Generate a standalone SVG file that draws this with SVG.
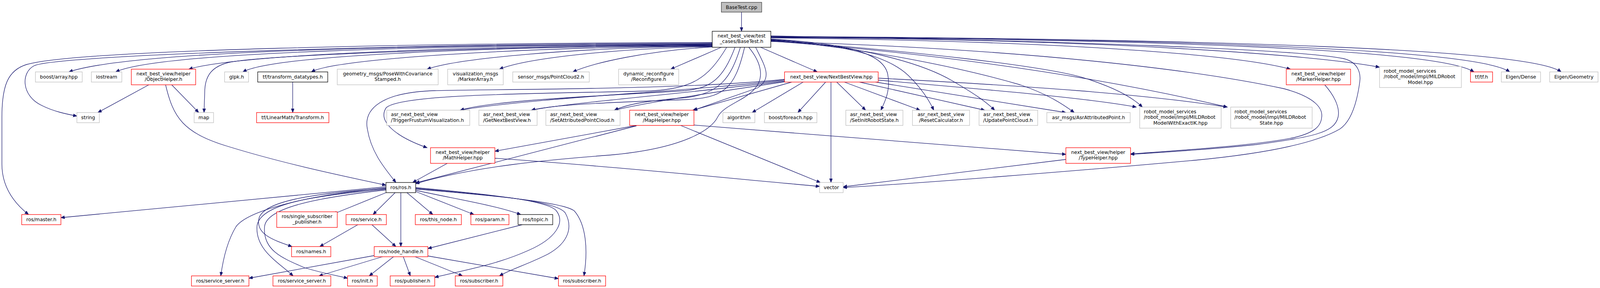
<svg xmlns="http://www.w3.org/2000/svg" width="4203" height="737" viewBox="0 0 4203 737">
<style>
rect{fill:#fff;stroke-width:1.3}
.g{stroke:#bfbfbf}
.r{stroke:#ff0000}
.k{stroke:#000}
.c{fill:#bfbfbf;stroke:#404040}
text{font-family:"DejaVu Sans",sans-serif;font-size:12.7px;fill:#000}
.m{text-anchor:middle}
#edges path{fill:none;stroke:#191970;stroke-width:1.3;marker-end:url(#a)}
</style>
<defs>
<marker id="a" markerUnits="userSpaceOnUse" markerWidth="12" markerHeight="10" refX="10" refY="4" orient="auto"><path d="M0,0L10,4L0,8z" fill="#191970" stroke="#191970" stroke-width="1"/></marker>
</defs>
<rect x="0" y="0" width="4203" height="737" style="fill:#fff;stroke:none"/>
<g id="diagram" transform="scale(0.9745,1)">
<g id="edges" fill="none" stroke="#191970" stroke-width="1.3">
<path d="M1948,31 L1948,80"/>
<path d="M1871,112 C1100,116 350,128 181,184"/>
<path d="M1871,113 C1150,117 420,132 304,184"/>
<path d="M1871,114 C1200,118 620,140 496,177"/>
<path d="M1871,110 C1100,112 150,140 90,168 C55,185 55,245 110,270 C140,285 175,292 202,297"/>
<path d="M1871,109 C1100,110 200,128 70,165 C20,180 5,220 5,300 L5,420 C5,480 40,522 75,549"/>
<path d="M1871,115 C1300,120 700,140 600,160 C560,170 540,190 538,230 L536,288"/>
<path d="M1871,116 C1300,120 720,140 638,184"/>
<path d="M1871,117 C1350,122 880,150 818,184"/>
<path d="M1871,118 C1500,122 1200,150 1122,177"/>
<path d="M1871,119 C1600,125 1380,150 1312,177"/>
<path d="M1871,120 C1700,130 1560,160 1505,184"/>
<path d="M1895,121 L1762,177"/>
<path d="M1998,121 L2147,184"/>
<path d="M1909,121 C1860,200 1820,228 1700,233 C1400,240 1060,240 1015,275 C990,310 1040,350 1122,378"/>
<path d="M1931,121 C1900,200 1870,225 1800,232 C1600,245 1300,255 1209,282"/>
<path d="M1956,121 C1930,230 1900,250 1800,255 C1600,262 1450,268 1396,282"/>
<path d="M1945,121 C1920,200 1890,240 1800,250 C1700,258 1650,266 1614,282"/>
<path d="M1985,121 C2010,170 2030,200 1990,225 L1822,282"/>
<path d="M1967,121 C2000,160 2010,200 1980,230 C1950,260 1900,270 1885,300 C1870,330 1800,380 1600,397 C1450,408 1250,425 1092,470"/>
<path d="M2025,100 C2200,110 2320,130 2332,190 C2340,230 2325,260 2314,282"/>
<path d="M2025,101 C2200,112 2330,140 2386,193 C2420,225 2440,255 2453,282"/>
<path d="M2025,102 C2250,115 2420,160 2502,207 C2560,240 2590,260 2613,282"/>
<path d="M2025,103 C2300,125 2550,180 2680,217 C2750,240 2790,265 2822,288"/>
<path d="M2025,104 C2400,130 2750,170 2850,200 C2920,222 2970,245 3001,274"/>
<path d="M2025,105 C2500,140 2900,200 3224,274"/>
<path d="M2025,106 C2700,125 3150,180 3373,227 C3460,250 3475,280 3472,300 C3470,325 3450,340 3400,352 C3300,372 3100,385 2970,394"/>
<path d="M2025,97 C2800,105 3250,140 3390,177"/>
<path d="M2025,96 C2900,100 3450,140 3624,172"/>
<path d="M2025,95 C3000,100 3780,125 3872,184"/>
<path d="M2025,94 C3100,100 3880,125 3966,184"/>
<path d="M2025,93 C3200,100 4020,125 4101,184"/>
<path d="M2025,92 C2800,105 3400,125 3530,150 C3570,160 3575,190 3572,210 C3565,260 3550,310 3520,330 C3450,370 3300,395 3140,410 C2800,440 2400,470 2215,480"/>
<path d="M2061,205 C1800,235 1400,250 1209,282"/>
<path d="M2065,207 C1800,240 1500,262 1396,282"/>
<path d="M2070,208 C1850,240 1700,262 1614,282"/>
<path d="M2080,210 L1820,282"/>
<path d="M2061,203 C1800,230 1300,228 1142,232 C1000,236 955,280 965,330 C975,390 1010,430 1040,467"/>
<path d="M2110,210 L1976,288"/>
<path d="M2169,210 L2096,288"/>
<path d="M2183,210 L2183,467"/>
<path d="M2198,210 L2274,282"/>
<path d="M2218,210 L2417,282"/>
<path d="M2258,210 L2587,282"/>
<path d="M2300,210 L2800,288"/>
<path d="M2307,205 C2600,230 2850,250 2985,274"/>
<path d="M2307,200 C2700,220 3000,240 3224,274"/>
<path d="M391,217 L257,288"/>
<path d="M451,217 L522,288"/>
<path d="M435,217 C455,300 480,340 600,375 C750,420 900,450 1014,474"/>
<path d="M769,210 L769,288"/>
<path d="M1672,321 L1300,387"/>
<path d="M1672,322 L1092,468"/>
<path d="M1823,320 C2200,350 2600,380 2800,395"/>
<path d="M1788,321 L2155,467"/>
<path d="M1175,418 L1084,467"/>
<path d="M1300,405 C1600,425 1900,455 2153,477"/>
<path d="M3480,217 C3510,250 3520,280 3515,300 C3505,340 3450,350 3300,370 C3150,385 3050,390 2970,395"/>
<path d="M2800,408 L2215,478"/>
<path d="M1014,478 L160,557"/>
<path d="M1014,481 C800,500 650,540 620,580 C595,620 585,670 580,706"/>
<path d="M1014,482 C820,495 690,515 680,560 C672,600 720,615 767,631"/>
<path d="M1014,484 C830,500 680,520 675,580 C672,640 730,670 770,706"/>
<path d="M1014,486 C840,505 700,530 695,580 C690,640 740,660 800,685 C850,700 885,705 913,712"/>
<path d="M1014,493 L875,548"/>
<path d="M1038,493 L980,549"/>
<path d="M1053,493 L1053,631"/>
<path d="M1069,493 L1137,549"/>
<path d="M1092,490 L1245,549"/>
<path d="M1092,487 C1200,510 1300,525 1368,549"/>
<path d="M1092,480 C1250,495 1440,510 1462,540 C1485,570 1460,610 1390,640 C1300,680 1200,695 1142,710"/>
<path d="M1092,482 C1250,497 1460,510 1485,545 C1505,580 1495,620 1440,650 C1390,675 1340,690 1312,706"/>
<path d="M1092,484 C1250,497 1480,515 1509,540 C1540,575 1545,640 1534,706"/>
<path d="M940,575 L840,631"/>
<path d="M977,575 L1040,631"/>
<path d="M1372,575 L1124,636"/>
<path d="M983,654 L654,712"/>
<path d="M1008,656 L838,706"/>
<path d="M1035,656 L970,706"/>
<path d="M1059,656 L1078,706"/>
<path d="M1088,656 L1215,706"/>
<path d="M1124,655 L1467,713"/>
</g>
<g id="nodes" font-family="DejaVu Sans, sans-serif" font-size="12.7">
<g id="n_cpp"><rect class="c" x="1895" y="6" width="106" height="25"/><text class="m" text-anchor="middle" x="1948" y="23">BaseTest.cpp</text></g>
<g id="n_basetest_h"><rect class="k" x="1871" y="80" width="154" height="41"/><text class="m" text-anchor="middle" x="1948" y="96">next_best_view/test</text><text class="m" text-anchor="middle" x="1948" y="110.5">_cases/BaseTest.h</text></g>
<g id="n_boost_array"><rect class="g" x="93" y="184" width="123" height="26"/><text class="m" text-anchor="middle" x="154.5" y="201">boost/array.hpp</text></g>
<g id="n_iostream"><rect class="g" x="240" y="184" width="80" height="26"/><text class="m" text-anchor="middle" x="280" y="201">iostream</text></g>
<g id="n_objecthelper"><rect class="r" x="345" y="177" width="169" height="40"/><text class="m" text-anchor="middle" x="429.5" y="193">next_best_view/helper</text><text class="m" text-anchor="middle" x="429.5" y="207.5">/ObjectHelper.h</text></g>
<g id="n_glpk"><rect class="g" x="590" y="184" width="63" height="26"/><text class="m" text-anchor="middle" x="621.5" y="201">glpk.h</text></g>
<g id="n_tf_datatypes"><rect class="k" x="677" y="184" width="184" height="26"/><text class="m" text-anchor="middle" x="769" y="201">tf/transform_datatypes.h</text></g>
<g id="n_pose"><rect class="g" x="886" y="177" width="265" height="40"/><text class="m" text-anchor="middle" x="1018.5" y="193">geometry_msgs/PoseWithCovariance</text><text class="m" text-anchor="middle" x="1018.5" y="207.5">Stamped.h</text></g>
<g id="n_markerarray"><rect class="g" x="1176" y="177" width="146" height="40"/><text class="m" text-anchor="middle" x="1249" y="193">visualization_msgs</text><text class="m" text-anchor="middle" x="1249" y="207.5">/MarkerArray.h</text></g>
<g id="n_pointcloud2"><rect class="g" x="1347" y="184" width="201" height="26"/><text class="m" text-anchor="middle" x="1447.5" y="201">sensor_msgs/PointCloud2.h</text></g>
<g id="n_reconfigure"><rect class="g" x="1625" y="177" width="158" height="40"/><text class="m" text-anchor="middle" x="1704" y="193">dynamic_reconfigure</text><text class="m" text-anchor="middle" x="1704" y="207.5">/Reconfigure.h</text></g>
<g id="n_nbv"><rect class="r" x="2061" y="184" width="246" height="26"/><text class="m" text-anchor="middle" x="2184" y="201">next_best_view/NextBestView.hpp</text></g>
<g id="n_markerhelper"><rect class="r" x="3379" y="177" width="169" height="40"/><text class="m" text-anchor="middle" x="3463.5" y="193">next_best_view/helper</text><text class="m" text-anchor="middle" x="3463.5" y="207.5">/MarkerHelper.hpp</text></g>
<g id="n_mildmodel"><rect class="g" x="3624" y="170" width="215" height="54"/><text x="3635" y="186">robot_model_services</text><text x="3635" y="200.5">/robot_model/impl/MILDRobot</text><text class="m" text-anchor="middle" x="3731.5" y="215">Model.hpp</text></g>
<g id="n_tf_tf"><rect class="r" x="3863" y="184" width="58" height="26"/><text class="m" text-anchor="middle" x="3892" y="201">tf/tf.h</text></g>
<g id="n_eigen_dense"><rect class="g" x="3944" y="184" width="103" height="26"/><text class="m" text-anchor="middle" x="3995.5" y="201">Eigen/Dense</text></g>
<g id="n_eigen_geometry"><rect class="g" x="4071" y="184" width="127" height="26"/><text class="m" text-anchor="middle" x="4134.5" y="201">Eigen/Geometry</text></g>
<g id="n_string"><rect class="g" x="202" y="288" width="59" height="26"/><text class="m" text-anchor="middle" x="231.5" y="305">string</text></g>
<g id="n_map"><rect class="g" x="510" y="288" width="51" height="26"/><text class="m" text-anchor="middle" x="535.5" y="305">map</text></g>
<g id="n_transform"><rect class="r" x="674" y="288" width="190" height="26"/><text class="m" text-anchor="middle" x="769" y="305">tf/LinearMath/Transform.h</text></g>
<g id="n_trigger"><rect class="g" x="1016" y="282" width="218" height="39"/><text x="1027" y="297.5">asr_next_best_view</text><text x="1027" y="312">/TriggerFrustumVisualization.h</text></g>
<g id="n_getnbv"><rect class="g" x="1258" y="282" width="153" height="39"/><text x="1269" y="297.5">asr_next_best_view</text><text x="1269" y="312">/GetNextBestView.h</text></g>
<g id="n_setattr"><rect class="g" x="1434" y="282" width="195" height="39"/><text x="1445" y="297.5">asr_next_best_view</text><text x="1445" y="312">/SetAttributedPointCloud.h</text></g>
<g id="n_maphelper"><rect class="r" x="1654" y="282" width="169" height="39"/><text class="m" text-anchor="middle" x="1738.5" y="297.5">next_best_view/helper</text><text class="m" text-anchor="middle" x="1738.5" y="312">/MapHelper.hpp</text></g>
<g id="n_algorithm"><rect class="g" x="1899" y="288" width="84" height="26"/><text class="m" text-anchor="middle" x="1941" y="305">algorithm</text></g>
<g id="n_foreach"><rect class="g" x="2008" y="288" width="138" height="26"/><text class="m" text-anchor="middle" x="2077" y="305">boost/foreach.hpp</text></g>
<g id="n_setinit"><rect class="g" x="2222" y="282" width="150" height="39"/><text x="2233" y="297.5">asr_next_best_view</text><text x="2233" y="312">/SetInitRobotState.h</text></g>
<g id="n_reset"><rect class="g" x="2397" y="282" width="150" height="39"/><text class="m" text-anchor="middle" x="2472" y="297.5">asr_next_best_view</text><text class="m" text-anchor="middle" x="2472" y="312">/ResetCalculator.h</text></g>
<g id="n_update"><rect class="g" x="2572" y="282" width="154" height="39"/><text x="2583" y="297.5">asr_next_best_view</text><text x="2583" y="312">/UpdatePointCloud.h</text></g>
<g id="n_asrpoint"><rect class="g" x="2750" y="288" width="219" height="26"/><text class="m" text-anchor="middle" x="2859.5" y="305">asr_msgs/AsrAttributedPoint.h</text></g>
<g id="n_exactik"><rect class="g" x="2994" y="274" width="214" height="54"/><text x="3005" y="290">robot_model_services</text><text x="3005" y="304.5">/robot_model/impl/MILDRobot</text><text class="m" text-anchor="middle" x="3101" y="319">ModelWithExactIK.hpp</text></g>
<g id="n_mildstate"><rect class="g" x="3233" y="274" width="214" height="54"/><text x="3243" y="290">robot_model_services</text><text x="3243" y="304.5">/robot_model/impl/MILDRobot</text><text class="m" text-anchor="middle" x="3340" y="319">State.hpp</text></g>
<g id="n_mathhelper"><rect class="r" x="1131" y="378" width="169" height="40"/><text class="m" text-anchor="middle" x="1215.5" y="394">next_best_view/helper</text><text class="m" text-anchor="middle" x="1215.5" y="408.5">/MathHelper.hpp</text></g>
<g id="n_typehelper"><rect class="r" x="2800" y="378" width="170" height="40"/><text class="m" text-anchor="middle" x="2885" y="394">next_best_view/helper</text><text class="m" text-anchor="middle" x="2885" y="408.5">/TypeHelper.hpp</text></g>
<g id="n_ros"><rect class="k" x="1014" y="467" width="78" height="26"/><text class="m" text-anchor="middle" x="1053" y="484">ros/ros.h</text></g>
<g id="n_vector"><rect class="g" x="2153" y="467" width="62" height="26"/><text class="m" text-anchor="middle" x="2184" y="484">vector</text></g>
<g id="n_master"><rect class="r" x="57" y="549" width="103" height="26"/><text class="m" text-anchor="middle" x="108.5" y="566">ros/master.h</text></g>
<g id="n_ssp"><rect class="r" x="727" y="542" width="159" height="40"/><text class="m" text-anchor="middle" x="806.5" y="558">ros/single_subscriber</text><text class="m" text-anchor="middle" x="806.5" y="572.5">_publisher.h</text></g>
<g id="n_service"><rect class="r" x="909" y="549" width="106" height="26"/><text class="m" text-anchor="middle" x="962" y="566">ros/service.h</text></g>
<g id="n_thisnode"><rect class="r" x="1091" y="549" width="121" height="26"/><text class="m" text-anchor="middle" x="1151.5" y="566">ros/this_node.h</text></g>
<g id="n_param"><rect class="r" x="1237" y="549" width="100" height="26"/><text class="m" text-anchor="middle" x="1287" y="566">ros/param.h</text></g>
<g id="n_topic"><rect class="k" x="1361" y="549" width="91" height="26"/><text class="m" text-anchor="middle" x="1406.5" y="566">ros/topic.h</text></g>
<g id="n_names"><rect class="r" x="766" y="631" width="103" height="26"/><text class="m" text-anchor="middle" x="817.5" y="648">ros/names.h</text></g>
<g id="n_nodehandle"><rect class="r" x="983" y="631" width="141" height="26"/><text class="m" text-anchor="middle" x="1053.5" y="648">ros/node_handle.h</text></g>
<g id="n_service_server1"><rect class="r" x="503" y="706" width="151" height="26"/><text class="m" text-anchor="middle" x="578.5" y="723">ros/service_server.h</text></g>
<g id="n_service_server2"><rect class="r" x="717" y="706" width="152" height="26"/><text class="m" text-anchor="middle" x="793" y="723">ros/service_server.h</text></g>
<g id="n_init"><rect class="r" x="913" y="706" width="78" height="26"/><text class="m" text-anchor="middle" x="952" y="723">ros/init.h</text></g>
<g id="n_publisher"><rect class="r" x="1025" y="706" width="117" height="26"/><text class="m" text-anchor="middle" x="1083.5" y="723">ros/publisher.h</text></g>
<g id="n_subscriber1"><rect class="r" x="1196" y="706" width="125" height="26"/><text class="m" text-anchor="middle" x="1258.5" y="723">ros/subscriber.h</text></g>
<g id="n_subscriber2"><rect class="r" x="1467" y="706" width="124" height="26"/><text class="m" text-anchor="middle" x="1529" y="723">ros/subscriber.h</text></g>
</g>
</g>
</svg>
